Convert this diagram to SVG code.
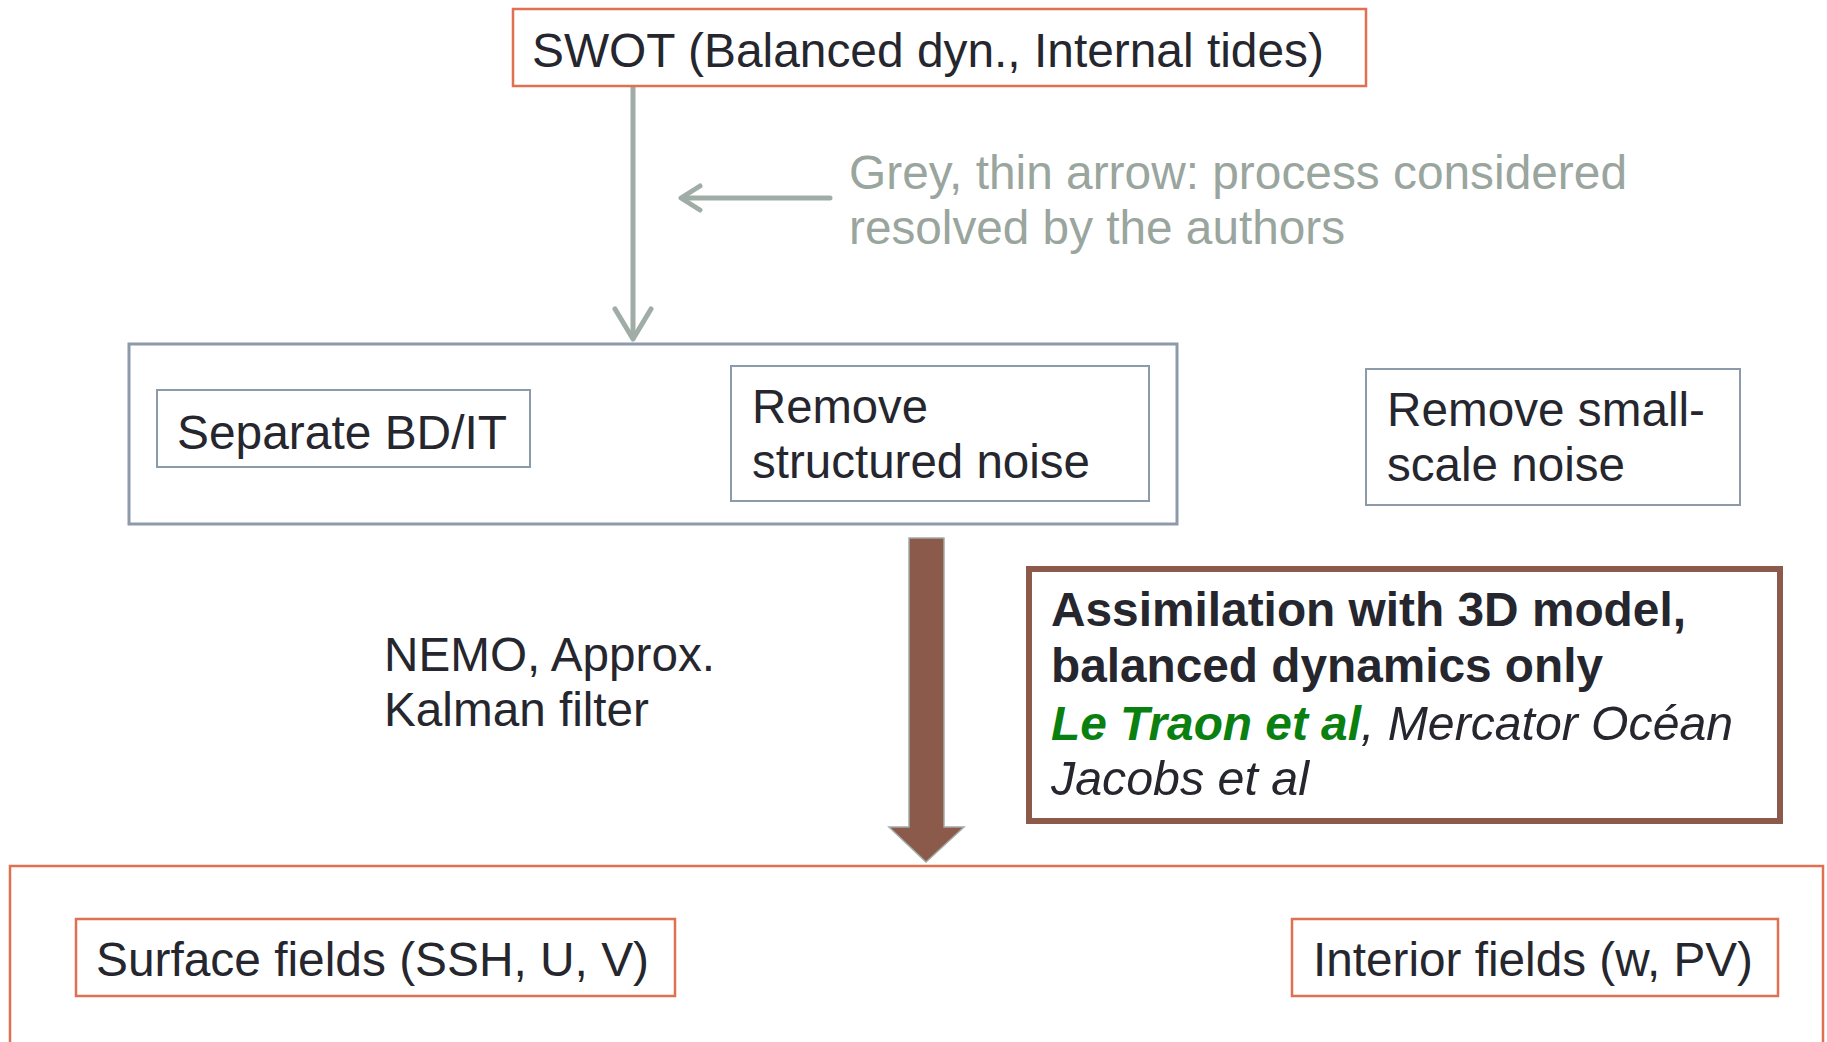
<svg xmlns="http://www.w3.org/2000/svg" width="1827" height="1042" viewBox="0 0 1827 1042">
<style>
  text { font-family: "Liberation Sans", Arial, sans-serif; font-size: 48px; fill: #26262E; }
  .grey { fill: #99A59D; }
  .org { fill: #FFFFFF; stroke: #E07052; stroke-width: 2.5; }
  .slate { fill: #FFFFFF; stroke: #8C9AAA; }
  .bold { font-weight: bold; }
  .it { font-style: italic; }
  .green { fill: #0A8010; }
</style>
<rect width="1827" height="1042" fill="#FFFFFF"/>

<g id="connectors">
  <g fill="none" stroke="#A0ACA6" stroke-width="5" stroke-linecap="round" stroke-linejoin="round">
    <line x1="633" y1="86" x2="633" y2="338"/>
    <polyline points="615,309 633,339 651,309"/>
    <line x1="830" y1="198" x2="682" y2="198"/>
    <polyline points="700,186 681,198 700,210"/>
  </g>
  <path d="M909,538 L944,538 L944,827 L964,827 L926,862 L889,827 L909,827 Z" fill="#8C5A4B" stroke="#A0ACA6" stroke-width="1.5"/>
</g>

<g id="swot">
  <rect class="org" x="513" y="9" width="853" height="77"/>
  <text x="532" y="67" textLength="792" lengthAdjust="spacingAndGlyphs">SWOT (Balanced dyn., Internal tides)</text>
</g>

<g id="legend">
  <text class="grey" x="849" y="189" textLength="778" lengthAdjust="spacingAndGlyphs">Grey, thin arrow: process considered</text>
  <text class="grey" x="849" y="244" textLength="496" lengthAdjust="spacingAndGlyphs">resolved by the authors</text>
</g>

<g id="preprocessing">
  <rect class="slate" x="129" y="344" width="1048" height="180" stroke-width="3"/>
</g>

<g id="separate">
  <rect class="slate" x="157" y="390" width="373" height="77" stroke-width="2"/>
  <text x="177" y="449" textLength="330" lengthAdjust="spacingAndGlyphs">Separate BD/IT</text>
</g>

<g id="structured">
  <rect class="slate" x="731" y="366" width="418" height="135" stroke-width="2"/>
  <text x="752" y="423" textLength="176" lengthAdjust="spacingAndGlyphs">Remove</text>
  <text x="752" y="478" textLength="338" lengthAdjust="spacingAndGlyphs">structured noise</text>
</g>

<g id="smallscale">
  <rect class="slate" x="1366" y="369" width="374" height="136" stroke-width="2"/>
  <text x="1387" y="426" textLength="318" lengthAdjust="spacingAndGlyphs">Remove small-</text>
  <text x="1387" y="481" textLength="238" lengthAdjust="spacingAndGlyphs">scale noise</text>
</g>

<g id="nemo">
  <text x="384" y="671" textLength="331" lengthAdjust="spacingAndGlyphs">NEMO, Approx.</text>
  <text x="384" y="726" textLength="265" lengthAdjust="spacingAndGlyphs">Kalman filter</text>
</g>

<g id="assimilation">
  <rect x="1029" y="569" width="751" height="252" fill="#FFFFFF" stroke="#8C5A4B" stroke-width="6"/>
  <text class="bold" x="1051" y="626" textLength="635" lengthAdjust="spacingAndGlyphs">Assimilation with 3D model,</text>
  <text class="bold" x="1051" y="682" textLength="552" lengthAdjust="spacingAndGlyphs">balanced dynamics only</text>
  <text class="bold it green" x="1051" y="740" textLength="310" lengthAdjust="spacingAndGlyphs">Le Traon et al</text>
  <text class="it" x="1361" y="740" textLength="372" lengthAdjust="spacingAndGlyphs">, Mercator Océan</text>
  <text class="it" x="1051" y="795" textLength="258" lengthAdjust="spacingAndGlyphs">Jacobs et al</text>
</g>

<g id="fields">
  <rect class="org" x="10" y="866" width="1813" height="200" stroke-width="3"/>
</g>

<g id="surface">
  <rect class="org" x="76" y="919" width="599" height="77"/>
  <text x="96" y="976" textLength="553" lengthAdjust="spacingAndGlyphs">Surface fields (SSH, U, V)</text>
</g>

<g id="interior">
  <rect class="org" x="1292" y="919" width="486" height="77"/>
  <text x="1313" y="976" textLength="440" lengthAdjust="spacingAndGlyphs">Interior fields (w, PV)</text>
</g>
</svg>
